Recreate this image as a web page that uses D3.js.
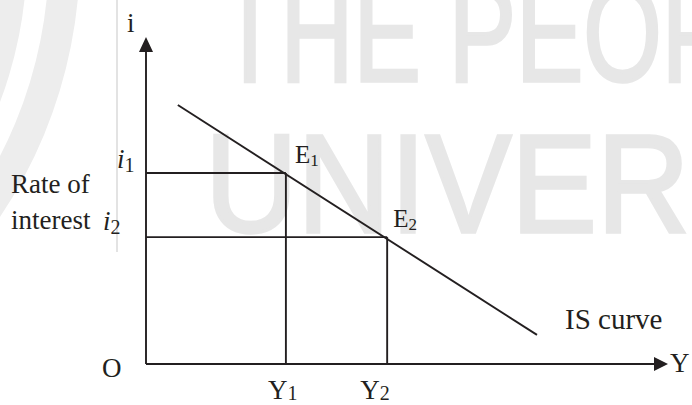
<!DOCTYPE html>
<html>
	<head>
		<meta charset="UTF-8">
		<title>IS curve</title>
		<script src="https://d3js.org/d3.v7.min.js"></script>
		<style>
			body{margin:0;background:#fff;}
			svg{display:block;}
			text{font-family:"Liberation Serif","Times New Roman",serif;fill:#231f20;}
		</style>
	</head>
	<body>
		<div id="svg"></div>
		<script>
      // data (axis units 0..100)
      const incomeLevels = [26.8, 46.2]      // Y1, Y2
      const interestRates = [58.4, 38.8]     // i1, i2
      const pointLabels = ['E', 'E']
      const subscripts = ['1', '2']
      const isCurveIncome = [6.1, 74.9]
      const isCurveRate = [79.2, 8.9]
      const watermarkWords = ['THE PEOP', 'UNIVERS']

      const W = 692, H = 405
      const ink = '#231f20'

      const svg = d3.select('#svg').append('svg').attr('width', W).attr('height', H)

      const x = d3.scaleLinear().domain([0, 100]).range([146, 668])
      const y = d3.scaleLinear().domain([0, 100]).range([364, 37])

      //水印 watermark
      const wm = svg.append('g').attr('fill', '#ededed')
      const ringArc = d3.arc().startAngle(0).endAngle(Math.PI * 2)
      wm.append('path').attr('transform', 'translate(-392,-46)')
        .attr('d', ringArc({innerRadius: 0, outerRadius: 419}))
      wm.append('path').attr('transform', 'translate(-392,-46)')
        .attr('d', ringArc({innerRadius: 441, outerRadius: 472}))
      wm.append('line').attr('x1', 117).attr('x2', 117).attr('y1', 0).attr('y2', 252)
        .attr('stroke', '#e3e3e3').attr('stroke-width', 2)
      wm.selectAll('text').data(watermarkWords).enter().append('text')
        .attr('x', (d, i) => i ? 205 : 219)
        .attr('y', (d, i) => i ? 232 : 81)
        .attr('textLength', (d, i) => i ? 570 : 510)
        .attr('lengthAdjust', 'spacingAndGlyphs')
        .style('font-family', '"Liberation Sans", Arial, sans-serif')
        .style('font-size', '140px').style('fill', '#e7e7e7')
        .style('stroke', '#e7e7e7').style('stroke-width', 3.5)
        .text(d => d)

      const g = svg.append('g').attr('stroke', ink).attr('stroke-width', 1.9).attr('fill', 'none')

      // axes
      g.append('line').attr('x1', x(0)).attr('y1', y(0)).attr('x2', x(0)).attr('y2', y(100) + 12)
      g.append('line').attr('x1', x(0)).attr('y1', y(0)).attr('x2', x(100) - 12).attr('y2', y(0))
      svg.append('path').attr('fill', ink)
        .attr('d', `M${x(0)},${y(100)} L${x(0) - 7},${y(100) + 15} L${x(0) + 7},${y(100) + 15} Z`)
      svg.append('path').attr('fill', ink)
        .attr('d', `M${x(100)},${y(0)} L${x(100) - 14},${y(0) - 7} L${x(100) - 14},${y(0) + 7} Z`)

      // guide lines to the equilibrium points
      const pts = incomeLevels.map((v, i) => ({inc: v, rate: interestRates[i], lab: pointLabels[i], sub: subscripts[i]}))
      g.selectAll('.h').data(pts).enter().append('line').attr('class', 'h')
        .attr('x1', x(0)).attr('x2', d => x(d.inc)).attr('y1', d => y(d.rate)).attr('y2', d => y(d.rate))
      g.selectAll('.v').data(pts).enter().append('line').attr('class', 'v')
        .attr('x1', d => x(d.inc)).attr('x2', d => x(d.inc)).attr('y1', d => y(d.rate)).attr('y2', y(0))

      // IS curve
      const line = d3.line().x(d => x(d[0])).y(d => y(d[1]))
      g.append('path').attr('d', line(d3.zip(isCurveIncome, isCurveRate)))

      // E1, E2
      const eLab = svg.selectAll('.e').data(pts).enter().append('text').attr('class', 'e')
        .attr('x', (d, i) => x(d.inc) + (i ? 6 : 9)).attr('y', d => y(d.rate) - 10)
        .style('font-size', '25px')
      eLab.append('tspan').text(d => d.lab)
      eLab.append('tspan').attr('dy', 3).style('font-size', '17px').text(d => d.sub)

      // Y1, Y2
      const yLab = svg.selectAll('.yl').data(pts).enter().append('text').attr('class', 'yl')
        .attr('x', (d, i) => x(d.inc) - (i ? 27 : 18)).attr('y', y(0) + 35)
        .style('font-size', '27px')
      yLab.append('tspan').text('Y')
      yLab.append('tspan').attr('dy', 1).style('font-size', '20px').text(d => d.sub)

      // i1, i2
      const iLab = svg.selectAll('.il').data(pts).enter().append('text').attr('class', 'il')
        .attr('x', (d, i) => x(0) - (i ? 43 : 29)).attr('y', (d, i) => y(d.rate) - (i ? 7 : 5))
        .style('font-size', '27px')
      iLab.append('tspan').style('font-style', 'italic').text('i')
      iLab.append('tspan').attr('dy', 4).style('font-size', '20px').text(d => d.sub)

      // other labels
      svg.append('text').attr('x', x(0) - 19).attr('y', y(100) - 5).style('font-size', '27px').text('i')
      svg.append('text').attr('x', x(100) + 2).attr('y', y(0) + 8).style('font-size', '27px').text('Y')
      svg.append('text').attr('x', x(0) - 44).attr('y', y(0) + 13).style('font-size', '27px').text('O')
      svg.append('text').attr('x', 11).attr('y', y(interestRates[0]) + 20).style('font-size', '27px').text('Rate of')
      svg.append('text').attr('x', 11).attr('y', y(interestRates[1]) - 8).style('font-size', '27px').text('interest')
      svg.append('text').attr('x', x(isCurveIncome[1]) + 28).attr('y', y(isCurveRate[1]) - 6)
        .style('font-size', '29px').text('IS curve')
		</script>
	</body>
</html>
